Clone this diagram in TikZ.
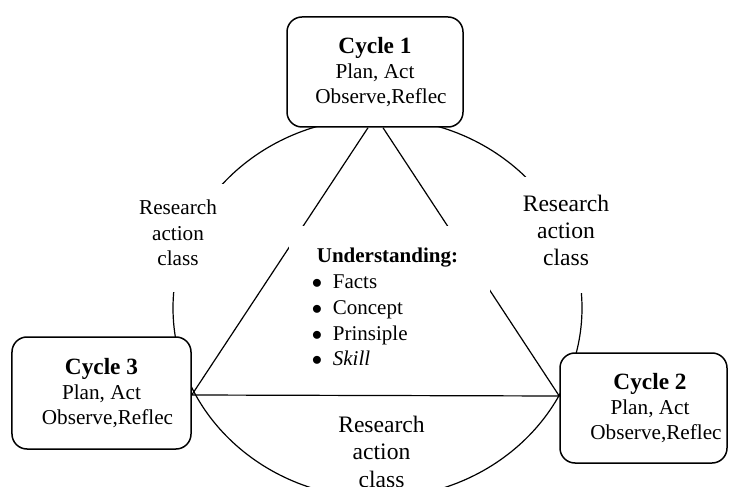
\documentclass[tikz,border=0pt]{standalone}
\usepackage{fontspec}
\setmainfont{Liberation Serif}
\usetikzlibrary{backgrounds}
% invisible rules that fix the height of a first line / depth of a last line
\newcommand\upstrut[1]{\rule{0pt}{#1}}
\newcommand\downstrut[1]{\rule[-#1]{0pt}{0pt}}
% list bullet with its hanging indent
\newcommand\listdot{\makebox[20bp][l]{\hspace*{-1bp}$\bullet$}}
\begin{document}
\begin{tikzpicture}[x=1bp,y=1bp,
  cyclebox/.style={draw, line width=1.5bp, rounded corners=15bp, fill=white,
    align=center, inner sep=0pt, font=\fontsize{21.2bp}{25bp}\selectfont},
  textcover/.style={fill=white, inner sep=0pt, align=center},
  link/.style={line width=1.2bp},
]
\useasboundingbox (0,0) rectangle (729,-487);

% the three cycles
\node[cyclebox, minimum width=176bp, minimum height=110bp] (c1) at (375,-72)
  {\upstrut{20bp}\textbf{\fontsize{23.3bp}{25bp}\selectfont Cycle 1}\\
   Plan, Act\\
   \hspace*{12bp}Observe,Reflec\downstrut{6bp}};
\node[cyclebox, minimum width=179bp, minimum height=112bp] (c3) at (101.5,-393)
  {\upstrut{20bp}\textbf{\fontsize{23.3bp}{25bp}\selectfont Cycle 3}\\
   Plan, Act\\
   \hspace*{12bp}Observe,Reflec\downstrut{8bp}};
\node[cyclebox, minimum width=167bp, minimum height=110bp] (c2) at (643.5,-408)
  {\upstrut{20bp}\hspace*{13bp}\textbf{\fontsize{23.3bp}{25bp}\selectfont Cycle 2}\\
   \hspace*{13bp}Plan, Act\\
   \hspace*{25bp}Observe,Reflec\downstrut{8bp}};

% labels on the ring
\node[textcover, minimum width=100bp, minimum height=108bp,
      font=\fontsize{21.2bp}{25bp}\selectfont] (rl) at (178,-238)
  {\upstrut{16bp}Research\\action\\class\downstrut{12bp}};
\node[textcover, minimum width=102bp, minimum height=116bp,
      font=\fontsize{23.6bp}{26.5bp}\selectfont] (rr) at (566,-235)
  {\upstrut{18bp}Research\\action\\class\downstrut{11bp}};
\node[textcover, anchor=north,
      font=\fontsize{23.6bp}{27.5bp}\selectfont] (rb) at (381.5,-412)
  {\upstrut{20bp}Research\\action\\class};

% centre list
\node[textcover, align=left, minimum width=201bp, minimum height=154bp,
      font=\fontsize{21bp}{25.75bp}\selectfont] (und) at (389.5,-303)
  {\upstrut{23bp}\hspace*{4bp}\textbf{Understanding:}\hspace*{8bp}\\
   \listdot Facts\\
   \listdot Concept\\
   \listdot Prinsiple\\
   \listdot\textit{Skill}};

% ring and triangle behind the boxes
\coordinate (ring) at (377.5,-308);
\coordinate (apexL) at ([xshift=-7bp]c1.south);
\coordinate (apexR) at ([xshift=8bp]c1.south);
\coordinate (cornerL) at ([yshift=-2bp]c3.east);
\coordinate (cornerR) at ([yshift=12bp]c2.west);
\begin{scope}[on background layer]
  \draw[link] (ring) ellipse [x radius=204.5, y radius=190];
  \draw[link] (apexL) -- (cornerL) -- (cornerR) -- (apexR);
\end{scope}
\end{tikzpicture}
\end{document}
